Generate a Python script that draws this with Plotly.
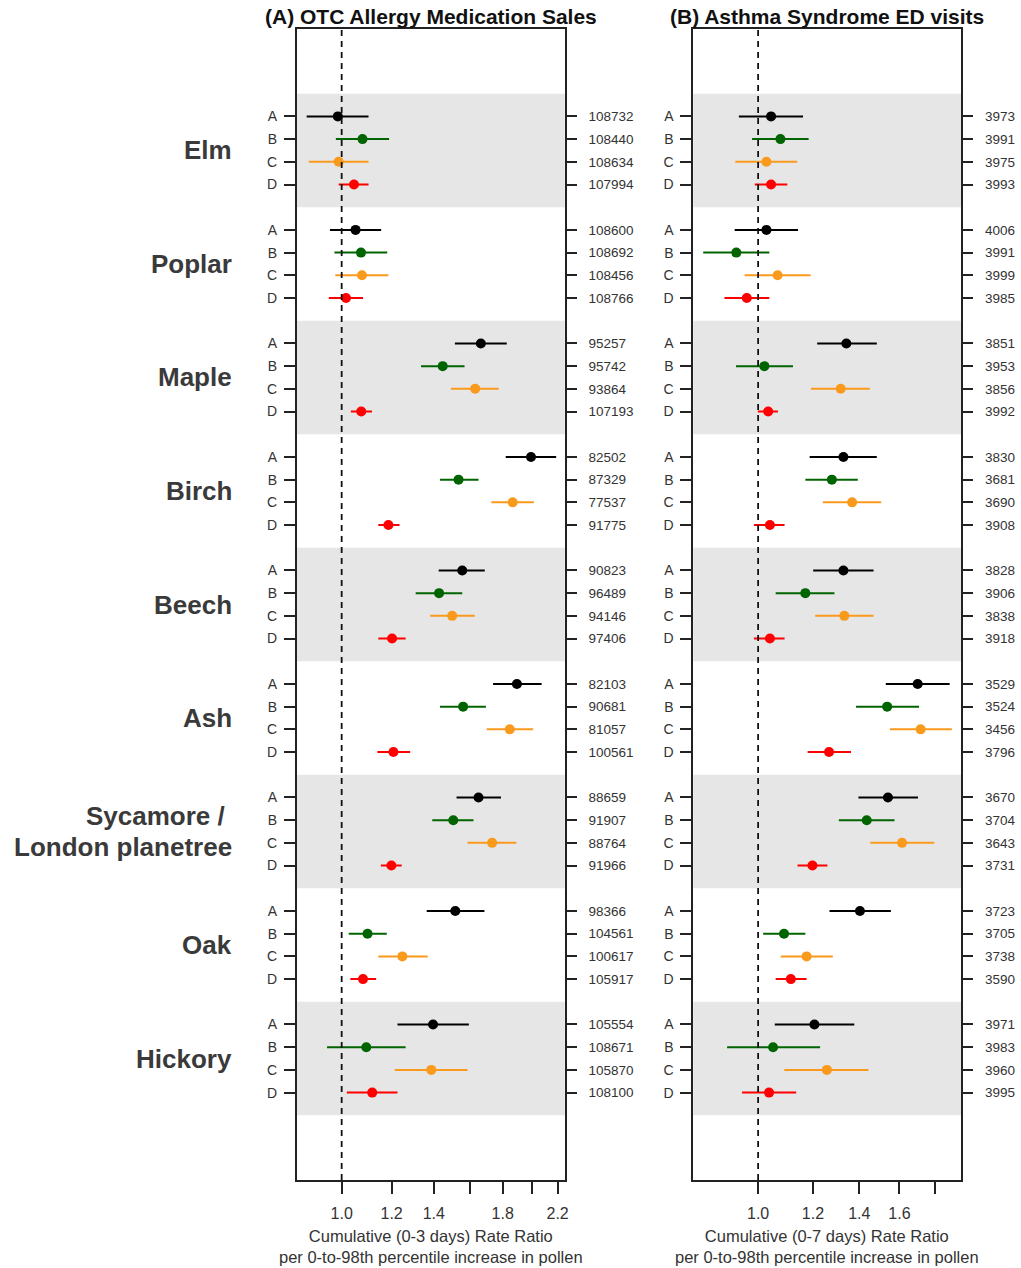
import math
import plotly.graph_objects as go

# ---------------- data ----------------
groups = ["Elm", "Poplar", "Maple", "Birch", "Beech", "Ash",
          "Sycamore /\u00a0\nLondon planetree", "Oak", "Hickory"]
series = ["A", "B", "C", "D"]
colors = {"A": "#000000", "B": "#006400", "C": "#F99A1C", "D": "#FF0000"}

# Panel A: OTC allergy medication sales (rate ratio, lower CI, upper CI)
otc_est_A = [0.986, 1.052, 1.662, 1.996, 1.553, 1.896, 1.648, 1.514, 1.396]
otc_lo_A = [0.880, 0.958, 1.512, 1.820, 1.425, 1.738, 1.521, 1.364, 1.226]
otc_hi_A = [1.103, 1.155, 1.827, 2.188, 1.686, 2.075, 1.789, 1.684, 1.591]
otc_est_B = [1.079, 1.073, 1.446, 1.532, 1.427, 1.558, 1.503, 1.099, 1.094]
otc_lo_B = [0.979, 0.974, 1.336, 1.432, 1.310, 1.432, 1.392, 1.026, 0.948]
otc_hi_B = [1.189, 1.181, 1.566, 1.648, 1.553, 1.693, 1.618, 1.179, 1.263]
otc_est_C = [0.989, 1.077, 1.628, 1.867, 1.497, 1.847, 1.732, 1.248, 1.387]
otc_lo_C = [0.887, 0.977, 1.490, 1.727, 1.381, 1.698, 1.583, 1.143, 1.214]
otc_hi_C = [1.103, 1.186, 1.774, 2.017, 1.626, 2.012, 1.892, 1.369, 1.583]
otc_est_D = [1.046, 1.016, 1.074, 1.186, 1.202, 1.208, 1.199, 1.081, 1.118]
otc_lo_D = [0.989, 0.954, 1.034, 1.143, 1.143, 1.139, 1.154, 1.032, 1.019]
otc_hi_D = [1.103, 1.081, 1.117, 1.235, 1.263, 1.284, 1.245, 1.134, 1.226]
otc_n_A = [108732, 108600, 95257, 82502, 90823, 82103, 88659, 98366, 105554]
otc_n_B = [108440, 108692, 95742, 87329, 96489, 90681, 91907, 104561, 108671]
otc_n_C = [108634, 108456, 93864, 77537, 94146, 81057, 88764, 100617, 105870]
otc_n_D = [107994, 108766, 107193, 91775, 97406, 100561, 91966, 105917, 108100]

# Panel B: Asthma syndrome ED visits
ed_est_A = [1.044, 1.028, 1.341, 1.328, 1.328, 1.700, 1.540, 1.403, 1.206]
ed_lo_A = [0.938, 0.925, 1.217, 1.187, 1.201, 1.529, 1.396, 1.268, 1.057]
ed_hi_A = [1.161, 1.142, 1.484, 1.484, 1.468, 1.891, 1.702, 1.555, 1.377]
ed_est_B = [1.077, 0.930, 1.021, 1.278, 1.170, 1.536, 1.435, 1.090, 1.051]
ed_lo_B = [0.980, 0.833, 0.929, 1.170, 1.060, 1.385, 1.308, 1.017, 0.902]
ed_hi_B = [1.183, 1.038, 1.123, 1.393, 1.289, 1.708, 1.574, 1.170, 1.229]
ed_est_C = [1.028, 1.067, 1.316, 1.367, 1.332, 1.717, 1.614, 1.175, 1.257]
ed_lo_C = [0.927, 0.956, 1.192, 1.240, 1.209, 1.550, 1.452, 1.078, 1.091]
ed_hi_C = [1.139, 1.191, 1.450, 1.506, 1.468, 1.905, 1.797, 1.282, 1.443]
ed_est_D = [1.044, 0.963, 1.034, 1.040, 1.040, 1.266, 1.198, 1.115, 1.037]
ed_lo_D = [0.989, 0.894, 0.999, 0.986, 0.986, 1.179, 1.140, 1.060, 0.948]
ed_hi_D = [1.102, 1.038, 1.068, 1.092, 1.092, 1.362, 1.259, 1.175, 1.135]
ed_n_A = [3973, 4006, 3851, 3830, 3828, 3529, 3670, 3723, 3971]
ed_n_B = [3991, 3991, 3953, 3681, 3906, 3524, 3704, 3705, 3983]
ed_n_C = [3975, 3999, 3856, 3690, 3838, 3456, 3643, 3738, 3960]
ed_n_D = [3993, 3985, 3992, 3908, 3918, 3796, 3731, 3590, 3995]

ticks_A = [1.0, 1.2, 1.4, 1.6, 1.8, 2.0, 2.2]
ticktext_A = ["1.0", "1.2", "1.4", "", "1.8", "", "2.2"]
ticks_B = [1.0, 1.2, 1.4, 1.6, 1.8]
ticktext_B = ["1.0", "1.2", "1.4", "1.6", ""]

panels = [
    dict(est={"A": otc_est_A, "B": otc_est_B, "C": otc_est_C, "D": otc_est_D},
         lo={"A": otc_lo_A, "B": otc_lo_B, "C": otc_lo_C, "D": otc_lo_D},
         hi={"A": otc_hi_A, "B": otc_hi_B, "C": otc_hi_C, "D": otc_hi_D},
         n={"A": otc_n_A, "B": otc_n_B, "C": otc_n_C, "D": otc_n_D}),
    dict(est={"A": ed_est_A, "B": ed_est_B, "C": ed_est_C, "D": ed_est_D},
         lo={"A": ed_lo_A, "B": ed_lo_B, "C": ed_lo_C, "D": ed_lo_D},
         hi={"A": ed_hi_A, "B": ed_hi_B, "C": ed_hi_C, "D": ed_hi_D},
         n={"A": ed_n_A, "B": ed_n_B, "C": ed_n_C, "D": ed_n_D}),
]

# ---------------- layout geometry ----------------
W, H = 1021, 1268
FONT = "Liberation Sans, Arial, sans-serif"
TXT = "#333333"
GROUP_STEP = 5
YR = [46.85, -3.85]


def px(x):
    return x / W


def py(y):
    return 1 - y / H


dom_x = [[px(298), px(567)], [px(696), px(965)]]
dom_y = [py(1180), py(29)]
xrange_ = [[math.log10(0.849), math.log10(2.258)], [math.log10(0.806), math.log10(1.965)]]

fig = go.Figure()

ypos = {s: [g * GROUP_STEP + i for g in range(len(groups))] for i, s in enumerate(series)}
all_y = sorted(v for s in series for v in ypos[s])

for p, pan in enumerate(panels):
    xa = "x" if p == 0 else "x2"
    ya = "y" if p == 0 else "y2"
    yr = "y3" if p == 0 else "y4"
    for s in series:
        est, lo, hi = pan["est"][s], pan["lo"][s], pan["hi"][s]
        fig.add_trace(go.Scatter(
            x=est, y=ypos[s], xaxis=xa, yaxis=ya, mode="markers",
            marker=dict(color=colors[s], size=10, line=dict(width=0)),
            error_x=dict(type="data", symmetric=False,
                         array=[h - e for h, e in zip(hi, est)],
                         arrayminus=[e - l for e, l in zip(est, lo)],
                         color=colors[s], thickness=2, width=0),
            showlegend=False, hoverinfo="x+y"))
    # invisible trace carrying the right-side axis
    fig.add_trace(go.Scatter(x=[1.0] * len(all_y), y=all_y, xaxis=xa, yaxis=yr,
                             mode="markers", marker=dict(opacity=0),
                             showlegend=False, hoverinfo="skip"))

axis_line = dict(showline=True, linecolor="#222222", linewidth=1.8)
for p in range(2):
    xs = "" if p == 0 else "2"
    ticks = ticks_A if p == 0 else ticks_B
    ttext = ticktext_A if p == 0 else ticktext_B
    fig.layout["xaxis" + xs] = dict(
        type="log", domain=dom_x[p], range=xrange_[p], anchor="y" + ("" if p == 0 else "2"),
        tickvals=ticks, ticktext=ttext, ticks="outside", ticklen=12, tickwidth=1.8,
        tickcolor="#222222", mirror=True, showgrid=False, zeroline=False,
        tickfont=dict(family=FONT, size=16, color=TXT), ticklabelstandoff=6,
        **axis_line)
    ya = "yaxis" if p == 0 else "yaxis2"
    fig.layout[ya] = dict(
        domain=dom_y, range=YR, anchor="x" + xs, tickvals=all_y,
        ticktext=[series[v % GROUP_STEP] for v in all_y], ticks="outside", ticklen=11,
        tickwidth=1.8, tickcolor="#222222", mirror=True, showgrid=False, zeroline=False,
        tickfont=dict(family=FONT, size=14, color=TXT), ticklabelstandoff=4, **axis_line)
    yr = "yaxis3" if p == 0 else "yaxis4"
    counts = []
    for v in all_y:
        g, s = v // GROUP_STEP, series[v % GROUP_STEP]
        counts.append(str(panels[p]["n"][s][g]))
    fig.layout[yr] = dict(
        overlaying="y" + ("" if p == 0 else "2"), side="right", anchor="x" + xs,
        range=YR, tickvals=all_y, ticktext=counts, ticks="outside", ticklen=11,
        tickwidth=1.8, tickcolor="#222222", showline=False, showgrid=False,
        zeroline=False, tickfont=dict(family=FONT, size=13.5, color=TXT), ticklabelstandoff=9)

shapes = []
for p in range(2):
    xs = "x" if p == 0 else "x2"
    ys = "y" if p == 0 else "y2"
    for g in range(0, len(groups), 2):
        shapes.append(dict(type="rect", xref=xs + " domain", yref=ys, x0=0, x1=1,
                           y0=g * GROUP_STEP - 1, y1=g * GROUP_STEP + 4,
                           fillcolor="#E6E6E6", line=dict(width=0), layer="below"))
    shapes.append(dict(type="line", xref=xs, yref=ys + " domain", x0=1, x1=1, y0=0, y1=1,
                       line=dict(color="#111111", width=1.8, dash="6px,5px"), layer="above"))
fig.update_layout(shapes=shapes)

ann = []
for g, name in enumerate(groups):
    lines = name.split("\n")
    nl = len(lines)
    for k, line in enumerate(lines):
        ann.append(dict(text="<b>" + line + "</b>", xref="paper", yref="y", x=px(235),
                        y=g * GROUP_STEP + 1.5, yshift=-(k - (nl - 1) / 2) * 31,
                        xanchor="right", yanchor="middle", align="right",
                        showarrow=False, font=dict(family=FONT, size=26, color="#3a3a3a")))
titles = ["(A) OTC Allergy Medication Sales", "(B) Asthma Syndrome ED visits"]
xlabels = ["Cumulative (0-3 days) Rate Ratio<br>per 0-to-98th percentile increase in pollen",
           "Cumulative (0-7 days) Rate Ratio<br>per 0-to-98th percentile increase in pollen"]
for p in range(2):
    cx = (dom_x[p][0] + dom_x[p][1]) / 2
    ann.append(dict(text="<b>" + titles[p] + "</b>", xref="paper", yref="paper", x=cx,
                    y=py(16), xanchor="center", yanchor="middle", showarrow=False,
                    borderpad=0, font=dict(family=FONT, size=21, color="#111111")))
    ann.append(dict(text=xlabels[p], xref="paper", yref="paper", x=cx, y=py(1246),
                    xanchor="center", yanchor="middle", showarrow=False,
                    font=dict(family=FONT, size=16.5, color=TXT)))
fig.update_layout(annotations=ann)

fig.update_layout(width=W, height=H, margin=dict(l=0, r=0, t=0, b=0),
                  paper_bgcolor="white", plot_bgcolor="white", showlegend=False)

fig.write_html("out.html", config={"displayModeBar": False},
               post_script="document.body.style.margin='0px';")
